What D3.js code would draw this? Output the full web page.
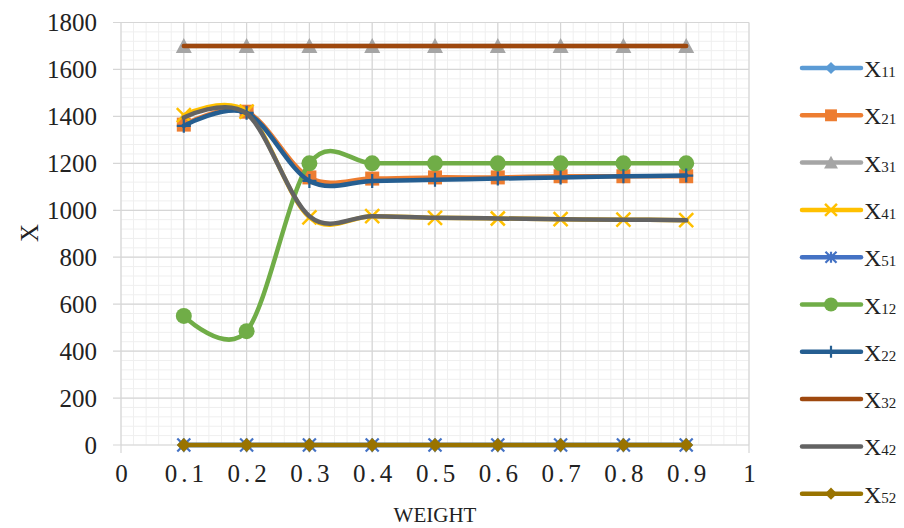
<!DOCTYPE html>
<html><head><meta charset="utf-8">
<script src="https://cdn.jsdelivr.net/npm/d3@7"></script>
<style>body{margin:0;background:#fff}svg{display:block}text{font-family:'Liberation Serif','Times New Roman',serif}</style>
</head><body>
<svg id="c" width="904" height="528"></svg>
<script>
const weights = [0.1,0.2,0.3,0.4,0.5,0.6,0.7,0.8,0.9];
const xTicks = [0,0.1,0.2,0.3,0.4,0.5,0.6,0.7,0.8,0.9,1];
const yTicks = [0,200,400,600,800,1000,1200,1400,1600,1800];
const seriesNames = ["11","21","31","41","51","12","22","32","42","52"];
const X11 = [0,0,0,0,0,0,0,0,0];
const X21 = [1365,1420,1140,1135,1140,1140,1145,1145,1145];
const X31 = [1700,1700,1700,1700,1700,1700,1700,1700,1700];
const X41 = [1405,1420,970,975,968,965,962,960,958];
const X51 = [0,0,0,0,0,0,0,0,0];
const X12 = [550,485,1200,1200,1200,1200,1200,1200,1200];
const X22 = [1360,1415,1125,1125,1130,1135,1140,1145,1148];
const X32 = [1700,1700,1700,1700,1700,1700,1700,1700,1700];
const X42 = [1395,1412,975,975,968,965,962,960,958];
const X52 = [0,0,0,0,0,0,0,0,0];
const seriesValues = [X11,X21,X31,X41,X51,X12,X22,X32,X42,X52];
const colors = ["#5B9BD5","#ED7D31","#A5A5A5","#FFC000","#4472C4","#70AD47","#255E91","#9E480E","#636363","#997300"];
const markers = ["diamond","square","triangle","x","asterisk","circle","plus","none","none","diamond"];

const svg = d3.select("#c");
const L=121, R=749, T=22.5, B=445;
const x = d3.scaleLinear().domain([0,1]).range([L,R]);
const y = d3.scaleLinear().domain([0,1800]).range([B,T]);
const serif = "'Liberation Serif','Times New Roman',serif";

// minor grid
const g = svg.append("g");
g.selectAll("line.mx").data(d3.range(0,1.0001,0.02)).join("line")
 .attr("x1",d=>x(d)).attr("x2",d=>x(d)).attr("y1",T).attr("y2",B)
 .attr("stroke","#efefef").attr("stroke-width",1);
g.selectAll("line.my").data(d3.range(0,1800.1,40)).join("line")
 .attr("y1",d=>y(d)).attr("y2",d=>y(d)).attr("x1",L).attr("x2",R)
 .attr("stroke","#efefef").attr("stroke-width",1);
// major grid
g.selectAll("line.Mx").data(xTicks).join("line")
 .attr("x1",d=>x(d)).attr("x2",d=>x(d)).attr("y1",T).attr("y2",B+8)
 .attr("stroke","#d6d6d6").attr("stroke-width",1.2);
g.selectAll("line.My").data(yTicks).join("line")
 .attr("y1",d=>y(d)).attr("y2",d=>y(d)).attr("x1",L-8).attr("x2",R)
 .attr("stroke","#d6d6d6").attr("stroke-width",1.2);

// axes labels
const yAxis = d3.axisLeft(y).tickValues(yTicks).tickSize(0).tickPadding(24).tickFormat(d3.format("d"));
const ya = svg.append("g").attr("transform",`translate(${L},0)`).call(yAxis);
ya.attr("font-family",null);
ya.select(".domain").remove();
ya.selectAll("text").style("font-family",serif).style("font-size","25px").attr("fill","#222");

const xAxis = d3.axisBottom(x).tickValues(xTicks).tickSize(0).tickPadding(19)
  .tickFormat(d=>d===0?"0":d===1?"1":d3.format(".1f")(d));
const xa = svg.append("g").attr("transform",`translate(0,${B})`).call(xAxis);
xa.attr("font-family",null);
xa.select(".domain").remove();
xa.selectAll("text").style("font-family",serif).style("font-size","25px").attr("fill","#222")
  .style("letter-spacing","4px").attr("dx",2);

svg.append("text").attr("x",435).attr("y",522).attr("text-anchor","middle")
 .style("font-family",serif).style("font-size","21px").attr("fill","#222").text("WEIGHT");
svg.append("text").attr("transform","translate(38,233) rotate(-90)").attr("text-anchor","middle")
 .style("font-family",serif).style("font-size","25px").attr("fill","#222").text("X");

// marker drawing
function drawMarker(sel, type, color, s){
  if(type==="none") return;
  if(type==="square") sel.append("rect").attr("x",-s/2).attr("y",-s/2).attr("width",s).attr("height",s).attr("fill",color);
  else if(type==="circle") sel.append("circle").attr("r",s/2+1).attr("fill",color);
  else if(type==="diamond") sel.append("path").attr("d",`M0,${-s/2-1}L${s/2+1},0L0,${s/2+1}L${-s/2-1},0Z`).attr("fill",color);
  else if(type==="triangle") sel.append("path").attr("d",`M0,${-s/2-1}L${s/2+1},${s/2}L${-s/2-1},${s/2}Z`).attr("fill",color);
  else if(type==="x") sel.append("path").attr("d",`M${-s/2},${-s/2}L${s/2},${s/2}M${s/2},${-s/2}L${-s/2},${s/2}`).attr("stroke",color).attr("stroke-width",2.5).attr("fill","none");
  else if(type==="plus") sel.append("path").attr("d",`M0,${-s/2}L0,${s/2}M${-s/2},0L${s/2},0`).attr("stroke",color).attr("stroke-width",2.2).attr("fill","none");
  else if(type==="asterisk") sel.append("path").attr("d",`M${-s/2},${-s/2}L${s/2},${s/2}M${s/2},${-s/2}L${-s/2},${s/2}M0,${-s/2}L0,${s/2}`).attr("stroke",color).attr("stroke-width",2.2).attr("fill","none");
}
const sizes = {square:14,circle:14,diamond:12,triangle:14,x:14,plus:14,asterisk:13,none:0};

const line = d3.line().x((d,i)=>x(weights[i])).y(d=>y(d)).curve(d3.curveCardinal.tension(0));
seriesValues.forEach((vals,k)=>{
  const sg = svg.append("g");
  sg.append("path").attr("d",line(vals)).attr("fill","none").attr("stroke",colors[k]).attr("stroke-width",4.5).attr("stroke-linecap","round");
  vals.forEach((v,i)=>{
    const m = sg.append("g").attr("transform",`translate(${x(weights[i])},${y(v)})`);
    drawMarker(m, markers[k], colors[k], sizes[markers[k]]);
  });
});

// legend
const lg = svg.append("g");
seriesNames.forEach((n,k)=>{
  const ly = 68 + k*47.3;
  const it = lg.append("g").attr("transform",`translate(0,${ly})`);
  it.append("line").attr("x1",802).attr("x2",861).attr("y1",0).attr("y2",0).attr("stroke",colors[k]).attr("stroke-width",4.5).attr("stroke-linecap","round");
  const m = it.append("g").attr("transform","translate(831,0)");
  drawMarker(m, markers[k], colors[k], sizes[markers[k]]*0.85);
  const t = it.append("text").attr("x",864).attr("y",9).style("font-family",serif).style("font-size","24px").attr("fill","#222");
  t.append("tspan").text("X");
  t.append("tspan").style("font-size","15px").text(n);
});
</script>
</body></html>
